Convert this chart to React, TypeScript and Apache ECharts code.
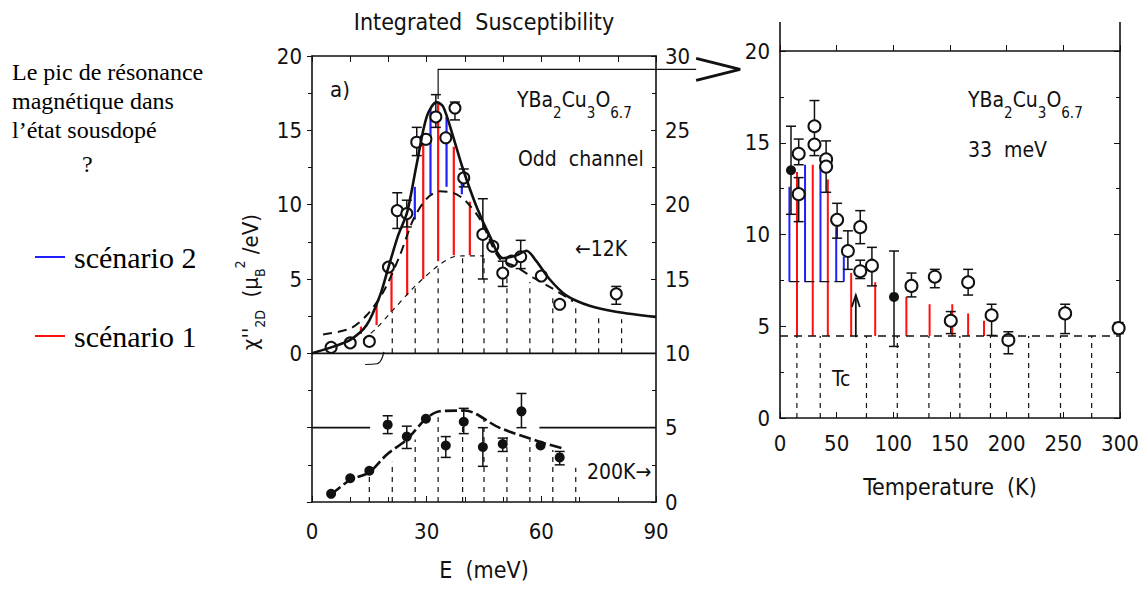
import React, { useEffect, useRef } from 'react';
import * as echarts from 'echarts';

const FONT = '"DejaVu Sans Condensed", "Liberation Sans Narrow", "Roboto Condensed", "Liberation Sans", sans-serif';
const SERIF = '"Liberation Serif", "DejaVu Serif", serif';
const INK = '#111';
const RED = '#ff1010';
const BLUE = '#2020ff';

// ---------- Left panel : E (meV) ----------
const eTicks = [0, 30, 60, 90];
// 12 K data, chi'' (left axis units)
const e12K = [5, 10, 15, 20, 22.3, 24.8, 27.4, 29.8, 32.4, 35, 37.4, 39.7, 44.7, 47.3, 49.9, 52.2, 54.6, 60, 64.8, 79.6];
const chi12K = [0.4, 0.7, 0.8, 5.8, 9.6, 9.4, 14.2, 14.4, 15.9, 14.5, 16.5, 11.8, 8.0, 7.2, 5.4, 6.2, 6.5, 5.2, 3.3, 4.0];
const err12KE = [22.3, 24.8, 27.4, 32.4, 37.4, 39.7, 44.7, 49.9, 54.6, 79.6];
const err12KLo = [8.4, 8.5, 13.3, 15.2, 15.7, 11.2, 5.0, 4.5, 5.7, 3.3];
const err12KHi = [10.8, 10.3, 15.2, 17.4, 16.9, 12.4, 10.4, 6.2, 7.6, 4.5];
// 12 K fit (solid)
const eFit12K = [0, 5.6, 10, 14.3, 17.8, 19.9, 22.5, 24.9, 27.3, 30, 32.6, 34.3, 36.9, 39.5, 43, 46.5, 50, 53.5, 56.1, 58.7, 62.1, 66.5, 72.6, 79.5, 90];
const chiFit12K = [0, 0.45, 0.9, 1.9, 3.9, 5.7, 7.9, 9.5, 12.6, 15.9, 16.9, 16.6, 14.6, 12.4, 9.9, 7.9, 6.4, 6.6, 6.9, 6.2, 5.0, 3.9, 3.2, 2.8, 2.45];
// upper dashed curve
const eDashHi = [2.9, 10, 14.3, 18.6, 23, 26.5, 30, 33.4, 36.9, 40, 44, 49, 53.5, 57.8, 63, 68.3];
const chiDashHi = [1.27, 1.67, 2.56, 4.1, 6.6, 9.0, 10.4, 10.9, 10.8, 10.3, 9.0, 6.4, 5.8, 5.1, 4.35, 3.5];
// lower dashed curve
const eDashLo = [13.4, 16.9, 20.8, 26.9, 33, 37.1, 39.4, 45];
const chiDashLo = [0.9, 1.7, 2.8, 4.5, 5.9, 6.5, 6.55, 6.55];
// vertical dashed drops (12 K part)
const eDrop12K = [21, 27, 33, 39.4, 45, 51, 57, 63, 69, 75, 81];
const topDrop12K = [2.8, 4.5, 5.9, 6.55, 6.55, 5.2, 4.8, 3.9, 3.1, 2.6, 2.3];
// scenario 1 (red) and scenario 2 (blue) bars
const eRed = [12.8, 16.9, 20.8, 24.9, 29.1, 33.0, 37.1, 41.3];
const redLo = [1.3, 1.9, 2.8, 3.9, 5.0, 6.2, 6.6, 6.6];
const redHi = [1.8, 3.3, 5.5, 9.0, 14.4, 16.9, 13.9, 10.2];
const eBlue = [26.9, 31, 35.2, 39.2];
const blueLo = [9.0, 10.7, 11.2, 10.7];
const blueHi = [11.2, 16.5, 15.9, 11.7];
// 200 K data (right axis units)
const e200K = [5, 10, 15, 19.8, 24.8, 29.8, 35, 39.7, 44.7, 49.9, 54.8, 59.8, 64.8];
const r200K = [0.55, 1.6, 2.1, 5.2, 4.4, 5.6, 3.8, 5.4, 3.7, 3.9, 6.1, 3.8, 3.0];
const err200KE = [19.8, 24.8, 35, 39.7, 44.7, 49.9, 54.8, 64.8];
const err200KLo = [4.6, 3.6, 3.0, 4.6, 2.4, 3.4, 5.0, 2.5];
const err200KHi = [5.8, 5.1, 4.4, 6.3, 5.0, 4.3, 7.3, 3.4];
const eFit200K = [5, 10, 15, 19.6, 24.8, 29.8, 33.4, 40, 49, 59.5, 65.6];
const rFit200K = [0.5, 1.48, 2.0, 3.2, 4.2, 5.6, 6.1, 6.15, 5.0, 4.06, 3.6];
const eDrop200K = [15, 21, 27, 33, 39.4, 45, 51, 57, 63, 69];
const topDrop200K = [2.0, 2.7, 4.2, 5.7, 6.1, 5.6, 4.5, 4.2, 3.5, 2.3];
// frame segments in right-axis units [x1, y1, x2, y2]
const baseSegments = [[0, 10, 90, 10], [0, 5, 15.2, 5], [59.5, 5, 90, 5]];
const hookE = [13.9, 17, 18.8];
const hookChi = [-0.75, -0.7, 0.1];
// 33 meV marker: [E, low, high, end of line, arrow tip] (right-axis units)
const marker = [[33, 27.1, 29.1, 100.5, 112]];

// ---------- Right panel : Temperature (K) ----------
const tOpen = [16.5, 16.5, 30.4, 30.4, 40.7, 40.7, 50.4, 59.9, 70.8, 70.8, 81.1, 116, 136.6, 150.7, 166, 186.7, 201.5, 251.6, 298.8];
const vOpen = [14.4, 12.2, 15.9, 14.9, 14.1, 13.7, 10.8, 9.1, 10.4, 8.0, 8.3, 7.2, 7.7, 5.3, 7.4, 5.6, 4.25, 5.7, 4.9];
const tFilled = [9.7, 100.6];
const vFilled = [13.5, 6.6];
const errT = [16.5, 16.5, 30.4, 40.7, 50.4, 59.9, 70.8, 70.8, 81.1, 116, 136.6, 150.7, 166, 186.7, 201.5, 251.6, 298.8, 9.7, 100.6];
const errTLo = [13.8, 10.7, 14.3, 12.3, 9.8, 8.1, 9.5, 7.6, 7.2, 6.6, 7.1, 4.6, 6.7, 4.5, 3.5, 4.6, 4.6, 11.1, 3.9];
const errTHi = [15.2, 13.1, 17.3, 15.1, 11.7, 10.2, 11.3, 8.6, 9.3, 7.9, 8.1, 5.8, 8.1, 6.2, 4.7, 6.2, 5.2, 15.9, 9.1];
const tBlue = [8.3, 22.1, 35.7, 49.6, 56.3];
const blueBaseT = 7.43;
const blueTopT = [12.6, 13.8, 13.8, 10.4, 8.8];
const tRed = [15, 28.9, 42.2, 62.8, 84, 111.5, 132, 152, 166, 180];
const redBaseT = 4.47;
const redTopT = [13.4, 13.8, 13.0, 7.9, 7.4, 6.6, 6.2, 6.2, 5.7, 5.3];
const tDrop = [14.9, 35.5, 76.3, 103.5, 131.4, 158.7, 185.7, 219.4, 247.5, 275];
const tcArrow = [[66.9, 4.4, 6.7]];

// layout
const G1 = { left: 312, top: 56, width: 344, height: 446 };
const G2 = { left: 780, top: 51, width: 340, height: 367 };

const zip = (a: number[], b: number[]) => a.map((v, i) => [v, b[i]]);
const zip3 = (a: number[], b: number[], c: number[]) => a.map((v, i) => [v, b[i], c[i]]);
const constZip = (a: number[], base: number, c: number[]) => a.map((v, i) => [v, base, c[i]]);

const vSeg = (color: string, width: number, dash?: number[]) => (params: any, api: any) => {
  const x = api.value(0);
  const p1 = api.coord([x, api.value(1)]);
  const p2 = api.coord([x, api.value(2)]);
  return {
    type: 'line',
    shape: { x1: p1[0], y1: p1[1], x2: p2[0], y2: p2[1] },
    style: { stroke: color, lineWidth: width, lineDash: dash },
  };
};

const errBar = (cap: number) => (params: any, api: any) => {
  const x = api.value(0);
  const p1 = api.coord([x, api.value(1)]);
  const p2 = api.coord([x, api.value(2)]);
  const s = { stroke: INK, lineWidth: 1.5 };
  return {
    type: 'group',
    children: [
      { type: 'line', shape: { x1: p1[0], y1: p1[1], x2: p2[0], y2: p2[1] }, style: s },
      { type: 'line', shape: { x1: p1[0] - cap, y1: p1[1], x2: p1[0] + cap, y2: p1[1] }, style: s },
      { type: 'line', shape: { x1: p2[0] - cap, y1: p2[1], x2: p2[0] + cap, y2: p2[1] }, style: s },
    ],
  };
};

const segRender = (params: any, api: any) => {
  const a = api.coord([api.value(0), api.value(1)]);
  const b = api.coord([api.value(2), api.value(3)]);
  return { type: 'line', shape: { x1: a[0], y1: a[1], x2: b[0], y2: b[1] }, style: { stroke: INK, lineWidth: 1.6 } };
};

const markerRender = (params: any, api: any) => {
  const e = api.value(0);
  const lo = api.coord([e, api.value(1)]);
  const hi = api.coord([e, api.value(2)]);
  const end = api.coord([api.value(3), api.value(2)]);
  const tip = api.coord([api.value(4), api.value(2)]);
  return {
    type: 'group',
    children: [
      { type: 'polyline', shape: { points: [lo, hi, end] }, style: { stroke: INK, lineWidth: 1.2, fill: 'none' } },
      { type: 'polyline', shape: { points: [[end[0], end[1] - 11], tip, [end[0], end[1] + 11]] }, style: { stroke: INK, lineWidth: 3, fill: 'none' } },
    ],
  };
};

const arrowRender = (params: any, api: any) => {
  const x = api.value(0);
  const a = api.coord([x, api.value(1)]);
  const b = api.coord([x, api.value(2)]);
  const s = { stroke: INK, lineWidth: 1.8, fill: 'none' };
  return {
    type: 'group',
    children: [
      { type: 'line', shape: { x1: a[0], y1: a[1], x2: b[0], y2: b[1] }, style: s },
      { type: 'polyline', shape: { points: [[b[0] - 4, b[1] + 12], [b[0], b[1]], [b[0] + 4, b[1] + 12]] }, style: s },
    ],
  };
};

const axisLabel = { fontFamily: FONT, fontSize: 22, color: INK };
const axisLine = { show: true, onZero: false, lineStyle: { color: INK, width: 1.6 } };

function buildOption(): any {
  const txt = (x: number, y: number, text: string, extra: any = {}) => ({
    type: 'text', x, y,
    style: { text, fontFamily: FONT, fontSize: 21, fill: INK, align: 'left', verticalAlign: 'middle', ...extra },
  });
  const formulaRich = {
    a: { fontFamily: FONT, fontSize: 21, lineHeight: 40, fill: INK, color: INK },
    s: { fontFamily: FONT, fontSize: 15, lineHeight: 15, verticalAlign: 'bottom', fill: INK, color: INK },
  };
  return {
    animation: false,
    backgroundColor: '#fff',
    grid: [
      { ...G1, outerBoundsMode: 'none', containLabel: false },
      { ...G2, outerBoundsMode: 'none', containLabel: false },
    ],
    xAxis: [
      {
        gridIndex: 0, type: 'value', position: 'bottom', min: 0, max: 90, interval: 30,
        axisLine, axisLabel: { ...axisLabel, margin: 18, formatter: (v: number) => (eTicks.includes(v) ? String(v) : '') },
        axisTick: { show: true, inside: true, length: 6, lineStyle: { color: INK } },
        minorTick: { show: true, splitNumber: 3, length: 5, lineStyle: { color: INK } },
        splitLine: { show: false },
        name: 'E  (meV)', nameLocation: 'middle', nameGap: 56,
        nameTextStyle: { fontFamily: FONT, fontSize: 23, color: INK, verticalAlign: 'top' },
      },
      {
        gridIndex: 0, type: 'value', position: 'top', min: 0, max: 90, interval: 10,
        axisLine, axisLabel: { show: false },
        axisTick: { show: true, inside: true, length: 6, lineStyle: { color: INK } },
        splitLine: { show: false },
      },
      {
        gridIndex: 1, type: 'value', position: 'bottom', min: 0, max: 300, interval: 50,
        axisLine, axisLabel: { ...axisLabel, margin: 14 },
        axisTick: { show: true, inside: true, length: 6, lineStyle: { color: INK } },
        splitLine: { show: false },
        name: 'Temperature  (K)', nameLocation: 'middle', nameGap: 57,
        nameTextStyle: { fontFamily: FONT, fontSize: 23, color: INK, verticalAlign: 'top' },
      },
      {
        gridIndex: 1, type: 'value', position: 'top', min: 0, max: 300, interval: 50,
        axisLine, axisLabel: { show: false },
        axisTick: { show: true, inside: false, length: 6, lineStyle: { color: INK } },
        splitLine: { show: false },
      },
    ],
    yAxis: [
      {
        gridIndex: 0, type: 'value', position: 'left', min: -10, max: 20, interval: 5,
        axisLine, axisLabel: { ...axisLabel, margin: 10, formatter: (v: number) => (v < 0 ? '' : String(v)) },
        axisTick: { show: true, inside: false, length: 5, lineStyle: { color: INK } },
        minorTick: { show: true, splitNumber: 2, length: 4, lineStyle: { color: INK } },
        splitLine: { show: false },
      },
      {
        gridIndex: 0, type: 'value', position: 'right', min: 0, max: 30, interval: 5,
        axisLine, axisLabel: { ...axisLabel, margin: 9 },
        axisTick: { show: true, inside: true, length: 5, lineStyle: { color: INK } },
        minorTick: { show: true, splitNumber: 2, length: 4, lineStyle: { color: INK } },
        splitLine: { show: false },
      },
      {
        gridIndex: 1, type: 'value', position: 'left', min: 0, max: 20, interval: 5,
        axisLine, axisLabel: { ...axisLabel, margin: 10 },
        axisTick: { show: true, inside: true, length: 6, lineStyle: { color: INK } },
        minorTick: { show: true, splitNumber: 2, length: 4, lineStyle: { color: INK } },
        splitLine: { show: false },
      },
      {
        gridIndex: 1, type: 'value', position: 'right', min: 0, max: 20, interval: 5,
        axisLine, axisLabel: { show: false },
        axisTick: { show: true, inside: true, length: 6, lineStyle: { color: INK } },
        minorTick: { show: true, splitNumber: 2, length: 4, lineStyle: { color: INK } },
        splitLine: { show: false },
      },
    ],
    series: [
      // ---- left panel frame segments
      { type: 'custom', xAxisIndex: 0, yAxisIndex: 1, renderItem: segRender, data: baseSegments, silent: true },
      { type: 'line', xAxisIndex: 0, yAxisIndex: 0, data: zip(hookE, hookChi), smooth: 0.5, symbol: 'none', lineStyle: { color: INK, width: 1.2 } },
      // marker + arrow
      { type: 'custom', xAxisIndex: 0, yAxisIndex: 1, clip: false, renderItem: markerRender, data: marker, silent: true },
      // drops
      { type: 'custom', xAxisIndex: 0, yAxisIndex: 0, renderItem: vSeg(INK, 1.2, [5, 5]), data: constZip(eDrop12K, 0, topDrop12K) },
      { type: 'custom', xAxisIndex: 0, yAxisIndex: 1, renderItem: vSeg(INK, 1.2, [5, 5]), data: constZip(eDrop200K, 0, topDrop200K) },
      // scenarios
      { type: 'custom', xAxisIndex: 0, yAxisIndex: 0, renderItem: vSeg(RED, 2.2), data: zip3(eRed, redLo, redHi) },
      { type: 'custom', xAxisIndex: 0, yAxisIndex: 0, renderItem: vSeg(BLUE, 2.2), data: zip3(eBlue, blueLo, blueHi) },
      // curves
      { type: 'line', xAxisIndex: 0, yAxisIndex: 0, data: zip(eDashLo, chiDashLo), symbol: 'none', smooth: 0.3, lineStyle: { color: INK, width: 1.2, type: [5, 5] } },
      { type: 'line', xAxisIndex: 0, yAxisIndex: 0, data: zip(eDashHi, chiDashHi), symbol: 'none', smooth: 0.3, lineStyle: { color: INK, width: 2, type: [9, 6] } },
      { type: 'line', xAxisIndex: 0, yAxisIndex: 0, data: zip(eFit12K, chiFit12K), symbol: 'none', smooth: 0.3, lineStyle: { color: INK, width: 2.6 } },
      { type: 'line', xAxisIndex: 0, yAxisIndex: 1, data: zip(eFit200K, rFit200K), symbol: 'none', smooth: 0.3, lineStyle: { color: INK, width: 2.6, type: [12, 4] } },
      // errors and points
      { type: 'custom', xAxisIndex: 0, yAxisIndex: 0, renderItem: errBar(5), data: zip3(err12KE, err12KLo, err12KHi) },
      { type: 'custom', xAxisIndex: 0, yAxisIndex: 1, renderItem: errBar(5), data: zip3(err200KE, err200KLo, err200KHi) },
      { type: 'scatter', xAxisIndex: 0, yAxisIndex: 0, data: zip(e12K, chi12K), symbol: 'circle', symbolSize: 11,
        itemStyle: { color: '#fff', borderColor: INK, borderWidth: 2, opacity: 1 } },
      { type: 'scatter', xAxisIndex: 0, yAxisIndex: 1, data: zip(e200K, r200K), symbol: 'circle', symbolSize: 10,
        itemStyle: { color: INK, opacity: 1 } },

      // ---- right panel
      { type: 'custom', xAxisIndex: 2, yAxisIndex: 2, renderItem: vSeg(INK, 1.2, [5, 5]), data: constZip(tDrop, 0, tDrop.map(() => redBaseT)) },
      { type: 'line', xAxisIndex: 2, yAxisIndex: 2, data: [[0, redBaseT], [300, redBaseT]], symbol: 'none', lineStyle: { color: INK, width: 1.4, type: [8, 6] } },
      { type: 'line', xAxisIndex: 2, yAxisIndex: 2, data: [[tBlue[0], blueBaseT], [tBlue[tBlue.length - 1], blueBaseT]], symbol: 'none', lineStyle: { color: INK, width: 1.4, type: [10, 5] } },
      { type: 'custom', xAxisIndex: 2, yAxisIndex: 2, renderItem: vSeg(BLUE, 2), data: constZip(tBlue, blueBaseT, blueTopT) },
      { type: 'custom', xAxisIndex: 2, yAxisIndex: 2, renderItem: vSeg(RED, 2), data: constZip(tRed, redBaseT, redTopT) },
      { type: 'custom', xAxisIndex: 2, yAxisIndex: 2, renderItem: arrowRender, data: tcArrow },
      { type: 'custom', xAxisIndex: 2, yAxisIndex: 2, renderItem: errBar(5), data: zip3(errT, errTLo, errTHi) },
      { type: 'scatter', xAxisIndex: 2, yAxisIndex: 2, data: zip(tOpen, vOpen), symbol: 'circle', symbolSize: 12,
        itemStyle: { color: '#fff', borderColor: INK, borderWidth: 2, opacity: 1 } },
      { type: 'scatter', xAxisIndex: 2, yAxisIndex: 2, data: zip(tFilled, vFilled), symbol: 'circle', symbolSize: 10,
        itemStyle: { color: INK, opacity: 1 } },
    ],
    graphic: [
      txt(484, 22, 'Integrated  Susceptibility', { align: 'center', fontSize: 23 }),
      txt(330, 89, 'a)', { fontSize: 22 }),
      { type: 'text', x: 517, y: 100, style: { text: '{a|YBa}{s|2}{a|Cu}{s|3}{a|O}{s|6.7}', rich: formulaRich, align: 'left', verticalAlign: 'middle', fill: INK } },
      txt(518, 159, 'Odd  channel'),
      txt(575, 249, '←12K'),
      txt(587, 472, '200K→'),
      { type: 'text', x: 968, y: 100, style: { text: '{a|YBa}{s|2}{a|Cu}{s|3}{a|O}{s|6.7}', rich: formulaRich, align: 'left', verticalAlign: 'middle', fill: INK } },
      txt(968, 150, '33  meV'),
      txt(832, 379, 'Tc'),
      {
        type: 'text', x: 250, y: 282, rotation: Math.PI / 2,
        style: {
          text: "{a|χ''}{sub|2D}{a|  (μ}{sub|B}{sup|2}{a| /eV)}",
          align: 'center', verticalAlign: 'middle', fill: INK,
          rich: {
            a: { fontFamily: FONT, fontSize: 22, lineHeight: 34, color: INK },
            sub: { fontFamily: FONT, fontSize: 14, lineHeight: 14, verticalAlign: 'bottom', color: INK },
            sup: { fontFamily: FONT, fontSize: 14, lineHeight: 14, verticalAlign: 'top', color: INK },
          },
        },
      },
      // right panel frame extensions
      { type: 'line', shape: { x1: G2.left, y1: 22, x2: G2.left, y2: G2.top }, style: { stroke: INK, lineWidth: 1.6 } },
      { type: 'line', shape: { x1: G2.left + G2.width, y1: 22, x2: G2.left + G2.width, y2: G2.top }, style: { stroke: INK, lineWidth: 1.6 } },
      // left annotation
      txt(12, 72, 'Le pic de résonance', { fontFamily: SERIF, fontSize: 24, fill: '#000' }),
      txt(12, 101, 'magnétique dans', { fontFamily: SERIF, fontSize: 24, fill: '#000' }),
      txt(12, 130, 'l’état sousdopé', { fontFamily: SERIF, fontSize: 24, fill: '#000' }),
      txt(82, 164, '?', { fontFamily: SERIF, fontSize: 24, fill: '#000' }),
      { type: 'line', shape: { x1: 35, y1: 257, x2: 65, y2: 257 }, style: { stroke: BLUE, lineWidth: 2 } },
      txt(74, 257, 'scénario 2', { fontFamily: SERIF, fontSize: 30, fill: '#000' }),
      { type: 'line', shape: { x1: 35, y1: 336, x2: 65, y2: 336 }, style: { stroke: RED, lineWidth: 2 } },
      txt(74, 336, 'scénario 1', { fontFamily: SERIF, fontSize: 30, fill: '#000' }),
    ],
  };
}

export default function App() {
  const ref = useRef<HTMLDivElement>(null);
  useEffect(() => {
    if (!ref.current) return;
    const chart = echarts.init(ref.current, undefined, { renderer: 'svg' });
    chart.setOption(buildOption());
    return () => chart.dispose();
  }, []);
  return (
    <div
      ref={ref}
      style={{ position: 'fixed', left: 0, top: 0, width: 1142, height: 590, background: '#fff' }}
    />
  );
}
